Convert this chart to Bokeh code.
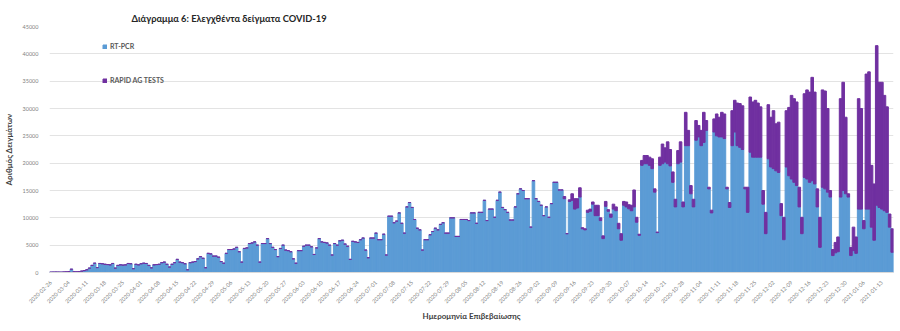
import pandas as pd
from math import pi
from bokeh.plotting import figure
from bokeh.models import ColumnDataSource, FixedTicker, Legend, LegendItem
from bokeh.embed import file_html
from bokeh.resources import INLINE

# Daily samples tested, one value per day starting 2020-02-26 (rows = weeks, Wed..Tue)
start_date = "2020-02-26"

rt_pcr = [
    60, 70, 80, 70, 60, 90, 110,
    150, 600, 130, 120, 150, 250, 350,
    500, 800, 1300, 1700, 900, 1650, 1600,
    1500, 1450, 1400, 1650, 800, 1300, 1400,
    1350, 1400, 1650, 1600, 700, 1500, 1400,
    1600, 1700, 1650, 1300, 850, 1400, 1450,
    1500, 1800, 1900, 1500, 1000, 1500, 1800,
    2400, 1900, 1800, 1600, 500, 1800, 1900,
    2000, 2500, 2900, 2600, 870, 3500, 3400,
    3000, 3000, 2800, 2000, 1700, 3500, 4200,
    4200, 4300, 4600, 3800, 1900, 4400, 4500,
    5300, 5400, 5600, 5000, 1900, 5300, 5300,
    6200, 5300, 4600, 4200, 2900, 4400, 5000,
    4100, 4000, 3800, 2500, 1700, 4000, 4000,
    4800, 5000, 5000, 4700, 3300, 4500, 6200,
    5600, 5500, 5400, 5000, 3200, 5300, 5000,
    5800, 5900, 5200, 4800, 2400, 5700, 5600,
    5500, 6000, 6300, 4100, 2700, 6300, 6300,
    7200, 6000, 6000, 7000, 3200, 10300, 10300,
    9100, 9400, 10900, 9000, 7200, 12000, 12800,
    11900, 9700, 8100, 7800, 4100, 6000, 6000,
    6900, 7500, 8100, 7800, 8800, 9100, 7200,
    7200, 10000, 10000, 6600, 6600, 9700, 9700,
    9700, 9500, 10900, 10900, 9000, 11000, 11000,
    13200, 9500, 11600, 11600, 10100, 13200, 14700,
    11900, 11500, 11000, 9600, 9600, 12000, 14400,
    15300, 15000, 13500, 13500, 8300, 16800, 13500,
    13000, 12300, 10400, 12000, 10100, 12600, 16500,
    16500, 15100, 15100, 13500, 7100, 13000, 13200,
    11600, 11800, 13800, 8000, 7800, 11000, 11200,
    12500, 10400, 10400, 9500, 6200, 12100, 11200,
    10100, 11600, 11300, 8000, 5900, 12300, 12000,
    11650, 11300, 12000, 9200, 6800, 19600, 19900,
    19900, 19600, 19000, 14700, 7300, 19600, 19900,
    20200, 19900, 19500, 16500, 12000, 19900, 20200,
    12000, 23200, 23200, 14400, 12000, 24200, 24800,
    23200, 23800, 26000, 15300, 10900, 25700, 25000,
    24800, 24800, 24500, 15300, 11900, 23200, 25700,
    23200, 22900, 22500, 15300, 11000, 22000, 21100,
    21100, 21100, 21100, 12500, 7100, 20800, 19300,
    19000, 18600, 18300, 10400, 6000, 19300, 17700,
    17100, 16500, 15900, 12000, 7100, 17400, 17100,
    16500, 16800, 16200, 12000, 4600, 15600, 15300,
    14700, 13800, 3100, 3600, 3800, 13800, 15000,
    14400, 13800, 3100, 4000, 3500, 11600, 11600,
    8000, 11600, 11600, 8300, 5900, 12300, 11900,
    11600, 11300, 11000, 8300, 3700,
]

rapid_ag = [0] * 196 + [
    0, 0, 0, 400, 0, 300, 1200,
    1900, 1700, 1700, 200, 200, 400, 400,
    400, 1900, 1900, 500, 500, 900, 300,
    600, 900, 700, 1000, 1200, 700, 900,
    750, 1000, 3100, 900, 200, 900, 1500,
    1500, 1500, 1800, 600, 100, 1500, 3600,
    2600, 4000, 3000, 1900, 1400, 2400, 3700,
    900, 6100, 2800, 1500, 1400, 3600, 2100,
    2800, 5500, 1800, 300, 500, 2400, 4000,
    3600, 4500, 4500, 300, 900, 6400, 5800,
    7800, 8000, 8000, 300, 4600, 10100, 10100,
    10400, 9900, 9200, 2500, 3900, 9900, 9100,
    10600, 8600, 9200, 2200, 4100, 10300, 12500,
    15300, 15300, 15300, 3600, 3000, 15300, 16300,
    16500, 18900, 16800, 3300, 5500, 17800, 17900,
    15300, 1200, 1100, 1900, 2700, 18000, 19800,
    14000, 600, 1500, 4300, 3000, 20200, 18400,
    1500, 24700, 25100, 11300, 10300, 29200, 22900,
    23200, 21100, 19300, 2400, 4300,
]

series_names = ["RT-PCR", "RAPID AG TESTS"]
y_ticks = [0, 5000, 10000, 15000, 20000, 25000, 30000, 35000, 40000, 45000]

n_days = len(rt_pcr)
dates = pd.date_range(start_date, periods=n_days)
date_labels = [d.strftime("%Y-%m-%d") for d in dates]
tick_days = list(range(0, n_days, 7))

BLUE = "#5B9BD5"
PURPLE = "#7030A0"
FONT = "Lato"

source = ColumnDataSource(dict(
    day=list(range(n_days)),
    pcr=rt_pcr,
    rapid=rapid_ag,
))

p = figure(
    width=900, height=331,
    output_backend="svg", toolbar_location=None,
    x_range=(-0.5, n_days - 0.5), y_range=(0, 45000),
    min_border_left=42, min_border_right=7,
    min_border_top=26, min_border_bottom=59,
)

bars = p.vbar_stack(["pcr", "rapid"], x="day", width=1.0,
                    color=[BLUE, PURPLE], source=source)

# title
p.title.text = "Διάγραμμα 6: Ελεγχθέντα δείγματα COVID-19"
p.title.text_font = FONT
p.title.text_font_size = "9.3px"
p.title.text_font_style = "bold"
p.title.text_color = "#262626"
p.title.align = "left"
p.title.offset = 82
p.title.standoff = 2
p.title.vertical_align = "top"

# axes
p.xaxis.ticker = FixedTicker(ticks=tick_days)
p.xaxis.major_label_overrides = {d: date_labels[d] for d in tick_days}
p.xaxis.major_label_orientation = pi / 4
p.xaxis.major_label_text_font_size = "5.5px"
p.xaxis.major_label_text_color = "#7F7F7F"
p.xaxis.major_label_standoff = 3
p.xaxis.axis_label = "Ημερομηνία Επιβεβαίωσης"
p.xaxis.axis_label_standoff = 3

p.yaxis.ticker = FixedTicker(ticks=y_ticks)
p.yaxis.major_label_text_font_size = "5.5px"
p.yaxis.major_label_text_color = "#7F7F7F"
p.yaxis.major_label_standoff = 5
p.yaxis.axis_label = "Αριθμός Δειγμάτων"
p.yaxis.axis_label_standoff = 6

for ax in (p.xaxis, p.yaxis):
    ax.major_label_text_font = FONT
    ax.axis_label_text_font = FONT
    ax.axis_label_text_font_size = "8px"
    ax.axis_label_text_font_style = "bold"
    ax.axis_label_text_color = "#404040"
    ax.major_tick_line_color = None
    ax.minor_tick_line_color = None
p.xaxis.axis_line_color = "#D9D9D9"
p.yaxis.axis_line_color = None

p.xgrid.visible = False
p.ygrid.ticker = FixedTicker(ticks=y_ticks)
p.ygrid.grid_line_color = "#E3E3E3"
p.outline_line_color = None

legend = Legend(
    items=[LegendItem(label=series_names[0], renderers=[bars[0]]),
           LegendItem(label=series_names[1], renderers=[bars[1]])],
    location=(53, 188),
    orientation="vertical",
    label_text_font=FONT,
    label_text_font_size="7px",
    label_text_font_style="bold",
    label_text_color="#595959",
    label_height=8,
    label_standoff=3,
    glyph_width=5,
    glyph_height=5,
    spacing=26,
    padding=0,
    margin=0,
    border_line_color=None,
    background_fill_alpha=0,
)
p.add_layout(legend)

open("out.html", "w").write(file_html(p, INLINE))
